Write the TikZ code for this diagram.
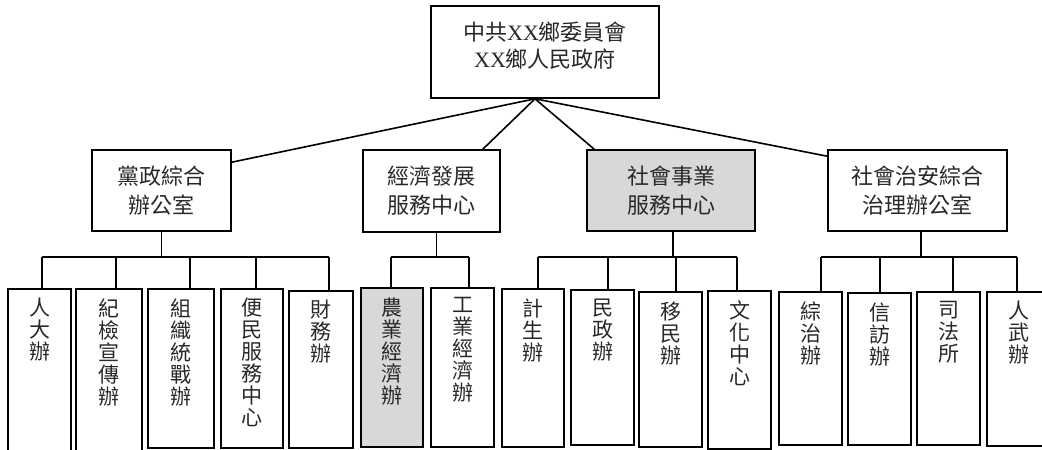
\documentclass[tikz,border=0pt]{standalone}
\usepackage{fontspec}
\setmainfont{Liberation Serif}
\newfontfamily\cjk{Noto Sans CJK TC}
\definecolor{ink}{RGB}{40,40,40}
\definecolor{shade}{RGB}{216,216,216}
\newcommand\vnode[7][]{\node[vbox,#1,minimum width={(#4-#3)*1pt},minimum height={(#6-#5)*1pt},label={[vlabel]north:{#7}}] (#2) at ({(#3+#4)/2},{(#5+#6)/2}) {};}
\newcommand\hnode[7][]{\node[hbox,#1,minimum width={(#4-#3)*1pt},minimum height={(#6-#5)*1pt}] (#2) at ({(#3+#4)/2},{(#5+#6)/2}) {#7};}
\begin{document}
\begin{tikzpicture}[x=1pt,y=-1pt,
  hbox/.style={draw,line width=1.6pt,inner sep=0pt,align=center,text=ink,font=\cjk\fontsize{22}{29}\selectfont},
  vbox/.style={draw,line width=1.6pt,inner sep=0pt},
  vlabel/.style={anchor=north,yshift=-10pt,inner sep=0pt,align=center,text=ink,font=\cjk\fontsize{21}{22}\selectfont},
  conn/.style={line width=1.6pt}]
\useasboundingbox (0,0) rectangle (1042,450);
% top
\node[hbox,minimum width=228pt,minimum height=92pt,label={[yshift=6pt,align=center,text=ink,font=\cjk\fontsize{22}{27}\selectfont]center:{中共{\rmfamily XX}鄉委員會\\{\rmfamily XX}鄉人民政府}}] (top) at (545,52) {};
% level 1
\hnode{p1}{92}{231}{150}{231}{黨政綜合\\辦公室}
\hnode{p2}{363}{500}{150}{232}{經濟發展\\服務中心}
\hnode[fill=shade]{p3}{587}{755}{150}{231}{社會事業\\服務中心}
\hnode{p4}{828}{1007}{150}{231}{社會治安綜合\\治理辦公室}
\coordinate (hub) at ([xshift=-10pt]top.south);
\draw[conn] (hub) -- ([yshift=-13pt]p1.north east);
\draw[conn] (hub) -- ([xshift=-18pt]p2.north east);
\draw[conn] (hub) -- ([xshift=8pt]p3.north west);
\draw[conn] (hub) -- ([yshift=-7pt]p4.north west);
% level 2
\vnode{c11}{8}{71}{289}{470}{人\\大\\辦}
\vnode{c12}{76}{142}{289}{470}{紀\\檢\\宣\\傳\\辦}
\vnode{c13}{148}{214}{289}{448}{組\\織\\統\\戰\\辦}
\vnode{c14}{221}{283}{289}{448}{便\\民\\服\\務\\中\\心}
\vnode{c15}{289}{353}{291}{448}{財\\務\\辦}
\vnode[fill=shade]{c21}{361}{423}{288}{447}{農\\業\\經\\濟\\辦}
\vnode{c22}{431}{494}{288}{447}{工\\業\\經\\濟\\辦}
\vnode{c31}{502}{564}{289}{447}{計\\生\\辦}
\vnode{c32}{571}{634}{290}{445}{民\\政\\辦}
\vnode{c33}{639}{702}{292}{447}{移\\民\\辦}
\vnode{c34}{708}{771}{291}{449}{文\\化\\中\\心}
\vnode{c41}{779}{842}{292}{445}{綜\\治\\辦}
\vnode{c42}{848}{911}{293}{445}{信\\訪\\辦}
\vnode{c43}{917}{980}{292}{445}{司\\法\\所}
\vnode{c44}{987}{1050}{292}{446}{人\\武\\辦}
% buses
\foreach \n/\x in {11/42,12/116,13/190,14/256,15/329,21/391,22/469,31/538,32/608,33/676,34/737,41/821,42/880,43/953,44/1017}
  {\coordinate (j\n) at (\x,257);
   \draw[conn] (j\n) -- (j\n |- c\n.north);}
\draw[conn] (j11) -- (j15);
\draw[conn] (j21) -- (j22);
\draw[conn] (j31) -- (j34);
\draw[conn] (j41) -- (j44);
\draw[conn] (p1.south) -- (p1.south |- j11);
\draw[conn] ([xshift=5pt]p2.south) -- ([xshift=5pt]p2.south |- j21);
\draw[conn] ([xshift=2pt]p3.south) -- ([xshift=2pt]p3.south |- j31);
\draw[conn] ([xshift=3.5pt]p4.south) -- ([xshift=3.5pt]p4.south |- j41);
\end{tikzpicture}
\end{document}
